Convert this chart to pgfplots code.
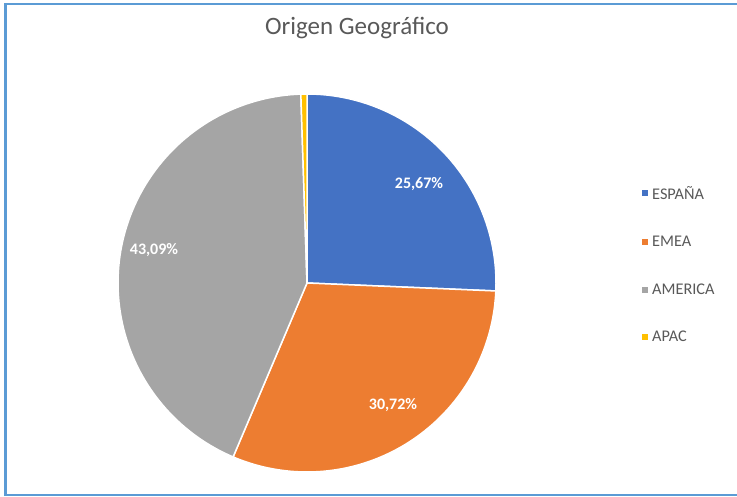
\documentclass[border=0pt]{standalone}
\usepackage{pgfplots}
\pgfplotsset{compat=1.18}
\usepackage{fontspec}
\setmainfont{Carlito}
\definecolor{cEsp}{HTML}{4472C4}
\definecolor{cEmea}{HTML}{ED7D31}
\definecolor{cAme}{HTML}{A5A5A5}
\definecolor{cApac}{HTML}{FFC000}
\definecolor{txt}{HTML}{595959}
\definecolor{frame}{HTML}{5B9BD5}
\begin{document}
\begin{tikzpicture}[x=1pt,y=1pt]
\useasboundingbox (0,0) rectangle (737,497);
\fill[white] (0,0) rectangle (737,497);
\begin{axis}[
  x=1pt, y=1pt,
  xmin=0, xmax=737, ymin=0, ymax=497,
  anchor=origin, at={(0pt,0pt)},
  hide axis, clip=false,
  legend style={at={(axis cs:639,315)}, anchor=north west, draw=none, fill=none,
    font=\fontsize{16.3}{19}\selectfont, text=txt, row sep=31.5pt, column sep=2pt,
    legend cell align=left},
  legend image code/.code={\fill[#1,draw=none] (0pt,-3pt) rectangle (6pt,3pt);},
]
% shares (percent): ESPANA 25.67, EMEA 30.72, AMERICA 43.09, APAC 0.52
% start at 90 deg, clockwise
\addplot[fill=cEsp, draw=white, line width=1.5pt, domain={90-3.6*25.67}:90, samples=80, variable=\t]
  ({307+189*cos(t)}, {214+189*sin(t)}) -- (axis cs:307,214) -- cycle;
\addplot[fill=cEmea, draw=white, line width=1.5pt, domain={90-3.6*(25.67+30.72)}:{90-3.6*25.67}, samples=80, variable=\t]
  ({307+189*cos(t)}, {214+189*sin(t)}) -- (axis cs:307,214) -- cycle;
\addplot[fill=cAme, draw=white, line width=1.5pt, domain={90-3.6*(25.67+30.72+43.09)}:{90-3.6*(25.67+30.72)}, samples=100, variable=\t]
  ({307+189*cos(t)}, {214+189*sin(t)}) -- (axis cs:307,214) -- cycle;
\addplot[fill=cApac, draw=white, line width=1.5pt, domain={90-3.6*(25.67+30.72+43.09+0.52)}:{90-3.6*(25.67+30.72+43.09)}, samples=5, variable=\t]
  ({307+189*cos(t)}, {214+189*sin(t)}) -- (axis cs:307,214) -- cycle;
\legend{ESPAÑA, EMEA, AMERICA, APAC}
\node[text=white, font=\fontsize{16}{19}\selectfont\bfseries] at (axis cs:419,313) {25,67\%};
\node[text=white, font=\fontsize{16}{19}\selectfont\bfseries] at (axis cs:393,92) {30,72\%};
\node[text=white, font=\fontsize{16}{19}\selectfont\bfseries] at (axis cs:154,247) {43,09\%};
\node[text=txt, font=\fontsize{25}{30}\selectfont] at (axis cs:357,469) {Origen Geográfico};
\end{axis}
\draw[frame, line width=2.5pt] (760,493) -- (5.5,493) -- (5.5,2) -- (760,2);
\end{tikzpicture}
\end{document}
